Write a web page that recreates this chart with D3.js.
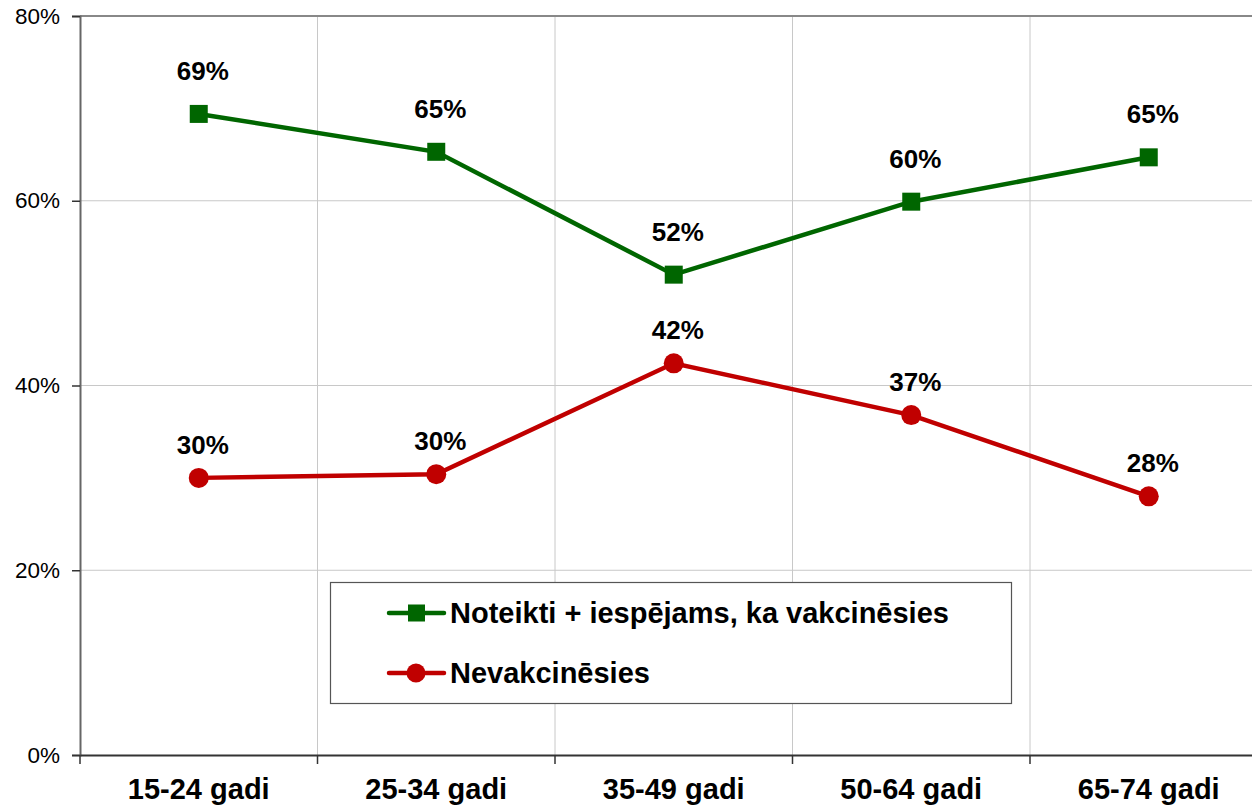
<!DOCTYPE html>
<html><head><meta charset="utf-8">
<script src="https://cdn.jsdelivr.net/npm/d3@7"></script>
<style>body{margin:0;background:#fff}svg{display:block;font-family:"Liberation Sans",Arial,sans-serif}</style>
</head><body><svg id="c" width="1252" height="807"></svg>
<script>
const categories = ["15-24 gadi","25-34 gadi","35-49 gadi","50-64 gadi","65-74 gadi"];
const seriesNames = ["Noteikti + iespējams, ka vakcinēsies","Nevakcinēsies"];
const greenValues = [69.4, 65.3, 52.0, 59.9, 64.7];
const redValues = [30.0, 30.4, 42.4, 36.8, 28.0];
const greenLabels = ["69%","65%","52%","60%","65%"];
const redLabels = ["30%","30%","42%","37%","28%"];
const yTicks = [0,20,40,60,80];

const svg = d3.select("#c");
const L=80, R=1267.5, T=16, B=755;
const x = d3.scaleBand().domain(categories).range([L,R]);
const y = d3.scaleLinear().domain([0,80]).range([B,T]);

// gridlines
svg.append("g").selectAll("line").data(yTicks.filter(d=>d>0&&d<80)).join("line")
  .attr("x1",L).attr("x2",R).attr("y1",d=>y(d)).attr("y2",d=>y(d))
  .attr("stroke","#c8c8c8").attr("stroke-width",1);
svg.append("g").selectAll("line").data(categories.slice(1)).join("line")
  .attr("x1",d=>x(d)).attr("x2",d=>x(d)).attr("y1",T).attr("y2",B)
  .attr("stroke","#c8c8c8").attr("stroke-width",1);
// top border
svg.append("line").attr("x1",L).attr("x2",R).attr("y1",T).attr("y2",T).attr("stroke","#888").attr("stroke-width",2);

// y axis
const yAxis = svg.append("g").attr("transform",`translate(${L},0)`)
  .call(d3.axisLeft(y).tickValues(yTicks).tickFormat(d=>d+"%").tickSize(8).tickPadding(12));
yAxis.select(".domain").attr("stroke","#666").attr("stroke-width",2);
yAxis.selectAll(".tick line").attr("stroke","#333").attr("stroke-width",1.5);
yAxis.selectAll("text").attr("font-size",22.5).attr("fill","#000").attr("font-family","Liberation Sans, Arial, sans-serif");

// x axis
const xAxis = svg.append("g").attr("transform",`translate(0,${B})`)
  .call(d3.axisBottom(x).tickSize(0).tickPadding(23));
xAxis.select(".domain").attr("stroke","#333").attr("stroke-width",2);
xAxis.selectAll("text").attr("font-size",29).attr("font-weight","bold").attr("fill","#000").attr("font-family","Liberation Sans, Arial, sans-serif");
svg.append("g").selectAll("line").data(categories).join("line")
  .attr("x1",d=>x(d)).attr("x2",d=>x(d)).attr("y1",B).attr("y2",B+9)
  .attr("stroke","#333").attr("stroke-width",1.5);

const cx = d => x(d)+x.bandwidth()/2;
const line = d3.line().x((d,i)=>cx(categories[i])).y(d=>y(d));

const green="#006600", red="#c00000";
svg.append("path").attr("d",line(greenValues)).attr("fill","none").attr("stroke",green).attr("stroke-width",4.5);
svg.append("path").attr("d",line(redValues)).attr("fill","none").attr("stroke",red).attr("stroke-width",4.5);

svg.append("g").selectAll("rect").data(greenValues).join("rect")
  .attr("x",(d,i)=>cx(categories[i])-9).attr("y",d=>y(d)-9).attr("width",18).attr("height",18).attr("fill",green);
svg.append("g").selectAll("circle").data(redValues).join("circle")
  .attr("cx",(d,i)=>cx(categories[i])).attr("cy",d=>y(d)).attr("r",10).attr("fill",red);

svg.append("g").selectAll("text").data(greenValues).join("text")
  .attr("x",(d,i)=>cx(categories[i])+4).attr("y",d=>y(d)-34)
  .attr("text-anchor","middle").attr("font-size",26).attr("font-weight","bold").text((d,i)=>greenLabels[i]);
svg.append("g").selectAll("text").data(redValues).join("text")
  .attr("x",(d,i)=>cx(categories[i])+4).attr("y",d=>y(d)-24)
  .attr("text-anchor","middle").attr("font-size",26).attr("font-weight","bold").text((d,i)=>redLabels[i]);

// legend
const lg = svg.append("g");
lg.append("rect").attr("x",330.5).attr("y",582.5).attr("width",681).attr("height",121)
  .attr("fill","#fff").attr("stroke","#555").attr("stroke-width",1.2);
const rows=[{c:green,shape:"rect",y:613},{c:red,shape:"circle",y:673}];
rows.forEach((r,i)=>{
  lg.append("line").attr("x1",389).attr("x2",444).attr("y1",r.y).attr("y2",r.y).attr("stroke",r.c).attr("stroke-width",4.5).attr("stroke-linecap","round");
  if(r.shape==="rect") lg.append("rect").attr("x",408).attr("y",r.y-8.5).attr("width",17).attr("height",17).attr("fill",r.c);
  else lg.append("circle").attr("cx",416).attr("cy",r.y).attr("r",9.5).attr("fill",r.c);
  lg.append("text").attr("x",450).attr("y",r.y+10).attr("font-size",29).attr("font-weight","bold").text(seriesNames[i]);
});
</script></body></html>
